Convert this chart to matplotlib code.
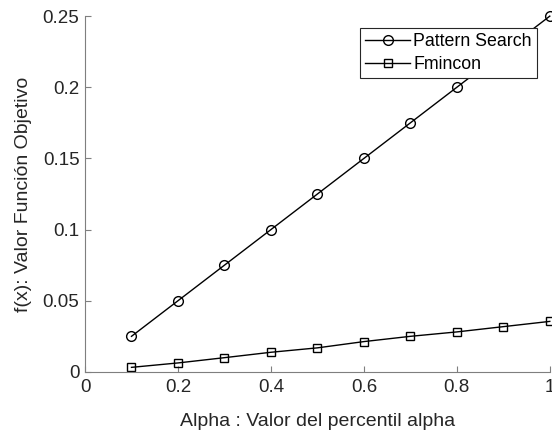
import matplotlib
matplotlib.use("Agg")
import matplotlib.pyplot as plt

alpha = [0.1, 0.2, 0.3, 0.4, 0.5, 0.6, 0.7, 0.8, 0.9, 1.0]
pattern_search = [0.025, 0.05, 0.075, 0.10, 0.125, 0.15, 0.175, 0.20, 0.225, 0.25]
fmincon = [0.0032, 0.0063, 0.0100, 0.0138, 0.0169, 0.0213, 0.0250, 0.0281, 0.0318, 0.0355]
xticks = [0, 0.2, 0.4, 0.6, 0.8, 1]
yticks = [0, 0.05, 0.1, 0.15, 0.2, 0.25]
ytick_labels = ["0", "0.05", "0.1", "0.15", "0.2", "0.25"]

plt.rcParams['font.family'] = ['Liberation Sans', 'DejaVu Sans']
txt = '#262626'
axc = '#7f7f7f'

fig = plt.figure(figsize=(5.52, 4.36), dpi=100)
ax = fig.add_axes([0.154, 0.147, 0.842, 0.816])

ax.plot(alpha, pattern_search, color='black', lw=1.0, marker='o', ms=7,
        mfc='none', mew=1.0, label='Pattern Search', clip_on=False)
ax.plot(alpha, fmincon, color='black', lw=1.0, marker='s', ms=5.5,
        mfc='none', mew=1.0, label='Fmincon', clip_on=False)

ax.set_xlim(0, 1)
ax.set_ylim(0, 0.25)
ax.set_xticks(xticks)
ax.set_xticklabels([f"{v:g}" for v in xticks])
ax.set_yticks(yticks)
ax.set_yticklabels(ytick_labels)

for s in ['top', 'right']:
    ax.spines[s].set_visible(False)
for s in ['left', 'bottom']:
    ax.spines[s].set_color(axc)
    ax.spines[s].set_linewidth(0.8)
ax.tick_params(direction='in', length=4, width=0.8, color=axc,
               labelcolor=txt, labelsize=13.5)
ax.tick_params(axis='x', pad=5)
ax.tick_params(axis='y', pad=4)

ax.set_xlabel('Alpha : Valor del percentil alpha', fontsize=14, color=txt, labelpad=12)
ax.set_ylabel('f(x): Valor Función Objetivo', fontsize=14, color=txt, labelpad=8)

leg = ax.legend(loc='upper right', bbox_to_anchor=(0.972, 0.966), fontsize=12.8,
                frameon=True, fancybox=False, edgecolor='#262626', framealpha=1,
                borderpad=0.28, handlelength=2.5, handletextpad=0.2,
                labelspacing=0.35, borderaxespad=0)
leg.set_zorder(5)
leg.get_frame().set_linewidth(0.8)
for t in leg.get_texts():
    t.set_color('black')

fig.savefig('out.png', dpi=100)
